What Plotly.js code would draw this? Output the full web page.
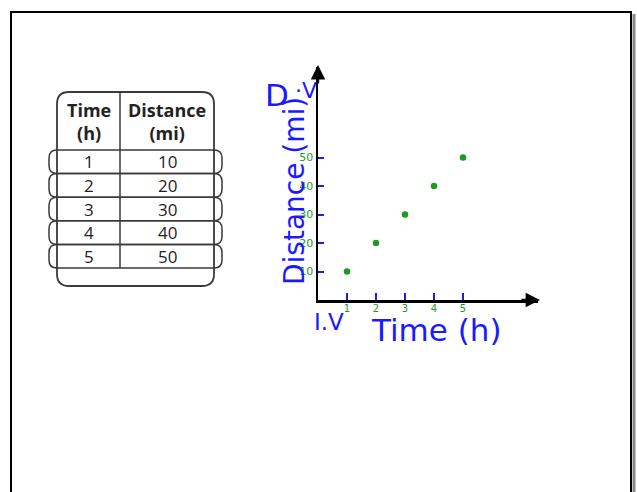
<!DOCTYPE html>
<html>
<head>
<meta charset="utf-8">
<script src="https://cdn.plot.ly/plotly-3.0.1.min.js"></script>
<style>html,body{margin:0;padding:0;background:#fff;}#chart{width:637px;height:492px;}</style>
</head>
<body>
<div id="chart"></div>
<script>
// ---- data ----
var timeH = [1, 2, 3, 4, 5];
var distanceMi = [10, 20, 30, 40, 50];
var tableHeaders = ['Time<br>(h)', 'Distance<br>(mi)'];
var xTickVals = [1, 2, 3, 4, 5];
var xTickText = ['1', '2', '3', '4', '5'];
var yTickVals = [10, 20, 30, 40, 50];
var yTickText = ['10', '20', '30', '40', '50'];

// ---- layout helpers (pixels -> paper) ----
var W = 637, H = 492;
function px(x) { return x / W; }
function py(y) { return 1 - y / H; }
function roundRect(x0, y0, x1, y1, r) {
  var p = [
    ['M', x0 + r, y0], ['L', x1 - r, y0], ['Q', x1, y0, x1, y0 + r],
    ['L', x1, y1 - r], ['Q', x1, y1, x1 - r, y1], ['L', x0 + r, y1],
    ['Q', x0, y1, x0, y1 - r], ['L', x0, y0 + r], ['Q', x0, y0, x0 + r, y0]
  ];
  return p.map(function (s) {
    var out = s[0];
    for (var i = 1; i < s.length; i += 2) {
      out += ' ' + px(s[i]).toFixed(5) + ',' + py(s[i + 1]).toFixed(5);
    }
    return out;
  }).join(' ') + ' Z';
}

var GREEN = '#1f9a1f';
var BLUE = '#1a1aff';
var LINE = '#3a3a3a';

// plot area in pixels
var PX0 = 318, PX1 = 538, PY0 = 67, PY1 = 300;

// table geometry
var TX0 = 57, TX1 = 214, TDIV = 120, TY0 = 92, THEAD = 150, TROW = 23.6, TY1 = 286;
var colCenters = [(TX0 + TDIV) / 2, (TDIV + TX1) / 2];
var tableColumns = [timeH, distanceMi];

var shapes = [];
// whiteboard frame
shapes.push({type: 'rect', xref: 'paper', yref: 'paper', x0: px(11), x1: px(631), y0: -0.05, y1: py(12),
  line: {color: '#000', width: 2}});
shapes.push({type: 'line', xref: 'paper', yref: 'paper', x0: px(634), x1: px(634), y0: -0.05, y1: py(14),
  line: {color: '#888', width: 3}});
// table outer rounded border
shapes.push({type: 'path', xref: 'paper', yref: 'paper', path: roundRect(TX0, TY0, TX1, TY1, 12),
  line: {color: LINE, width: 1.8}});
// row bands
for (var i = 0; i < timeH.length; i++) {
  var ya = THEAD + i * TROW, yb = THEAD + (i + 1) * TROW;
  shapes.push({type: 'path', xref: 'paper', yref: 'paper', path: roundRect(49, ya, 222, yb, 8),
    line: {color: LINE, width: 1.5}});
}
// divider
shapes.push({type: 'line', xref: 'paper', yref: 'paper', x0: px(TDIV), x1: px(TDIV), y0: py(TY0), y1: py(THEAD + timeH.length * TROW),
  line: {color: LINE, width: 1.5}});

var annotations = [];
var tableFont = {family: 'Open Sans', size: 17, color: '#222'};
// table header and cells
for (var c = 0; c < tableHeaders.length; c++) {
  annotations.push({xref: 'paper', yref: 'paper', x: px(colCenters[c]), y: py((TY0 + THEAD) / 2 + 1),
    xanchor: 'center', yanchor: 'middle', align: 'center', showarrow: false,
    text: '<b>' + tableHeaders[c].split('<br>').join('</b><br><b>') + '</b>',
    font: {family: 'Open Sans', size: 18, color: '#222'}});
  for (var r = 0; r < tableColumns[c].length; r++) {
    annotations.push({xref: 'paper', yref: 'paper', x: px(colCenters[c]), y: py(THEAD + (r + 0.5) * TROW),
      xanchor: 'center', yanchor: 'middle', showarrow: false,
      text: String(tableColumns[c][r]), font: tableFont});
  }
}
// axis arrows
annotations.push({xref: 'paper', yref: 'paper', x: px(PX0), y: py(PY0 - 2), ax: 0, ay: 20, showarrow: true,
  arrowhead: 2, arrowsize: 1.2, arrowwidth: 2.4, arrowcolor: '#000', text: ''});
annotations.push({xref: 'paper', yref: 'paper', x: px(PX1 + 2), y: py(PY1), ax: -20, ay: 0, showarrow: true,
  arrowhead: 2, arrowsize: 1.2, arrowwidth: 2.4, arrowcolor: '#000', text: ''});
// handwritten titles
var hand = {family: 'DejaVu Sans', color: BLUE};
function note(x, y, text, size, angle) {
  annotations.push({xref: 'paper', yref: 'paper', x: px(x), y: py(y), xanchor: 'center', yanchor: 'middle',
    text: text, showarrow: false, textangle: angle || 0, font: Object.assign({}, hand, {size: size})});
}
note(436, 330, 'Time (h)', 31);
note(329, 322, 'I.V', 23);
note(294, 191, 'Distance (mi)', 28, -90);
note(277, 95, 'D', 31);
note(306, 91, '·V', 22);

var points = {
  type: 'scatter', mode: 'markers', x: timeH, y: distanceMi,
  marker: {color: GREEN, size: 6.5},
  hoverinfo: 'skip', showlegend: false
};

var layout = {
  width: W, height: H,
  margin: {l: 0, r: 0, t: 0, b: 0},
  paper_bgcolor: '#fff', plot_bgcolor: 'rgba(0,0,0,0)',
  showlegend: false,
  xaxis: {
    domain: [px(PX0), px(PX1)], range: [0, (PX1 - PX0) / 29],
    showgrid: false, zeroline: false, showline: true, linecolor: '#000', linewidth: 2.5,
    tickvals: xTickVals, ticktext: xTickText, ticks: 'inside', ticklen: 7, tickwidth: 2, tickcolor: BLUE,
    ticklabelstandoff: -3,
    tickfont: {family: 'DejaVu Sans', size: 10, color: GREEN}, fixedrange: true
  },
  yaxis: {
    domain: [py(PY1), py(PY0)], range: [0, (PY1 - PY0) / 2.85],
    showgrid: false, zeroline: false, showline: true, linecolor: '#000', linewidth: 2.5,
    tickvals: yTickVals, ticktext: yTickText, ticks: 'inside', ticklen: 6, tickwidth: 2, tickcolor: BLUE,
    tickfont: {family: 'DejaVu Sans', size: 11, color: GREEN}, fixedrange: true
  },
  shapes: shapes,
  annotations: annotations
};

Plotly.newPlot('chart', [points], layout, {staticPlot: true, displayModeBar: false});
</script>
</body>
</html>
